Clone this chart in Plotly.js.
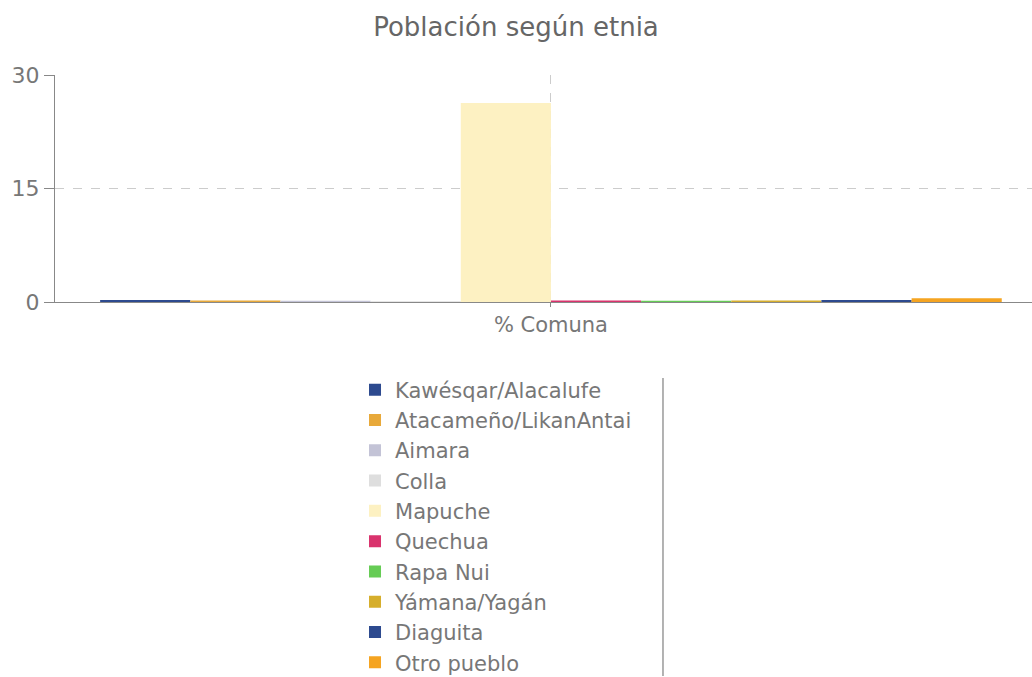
<!DOCTYPE html>
<html>
<head>
<meta charset="utf-8">
<script src="https://cdn.plot.ly/plotly-3.0.1.min.js"></script>
<style>html,body{margin:0;padding:0;background:#fff;}#chart{width:1032px;height:677px;}</style>
</head>
<body>
<div id="chart"></div>
<script>
const categories = ["% Comuna"];
const seriesNames = ["Kawésqar/Alacalufe","Atacameño/LikanAntai","Aimara","Colla","Mapuche","Quechua","Rapa Nui","Yámana/Yagán","Diaguita","Otro pueblo"];
const seriesValues = [0.25, 0.2, 0.15, 0.1, 26.3, 0.2, 0.15, 0.2, 0.25, 0.5];
const seriesColors = ["#2d4a8f","#e8a93a","#c3c3d6","#dedede","#fdf1c2","#d9336d","#66cc55","#d6ae2c","#2d4a8f","#f5a421"];
const yTicks = [0, 15, 30];

const font = "DejaVu Sans, Verdana, sans-serif";
const traces = seriesNames.map((n, i) => ({
  type: "bar",
  name: n,
  x: categories,
  y: [seriesValues[i]],
  marker: {color: seriesColors[i], line: {width: 0}},
  hoverinfo: "name+y"
}));

const layout = {
  width: 1032, height: 677,
  paper_bgcolor: "#fff", plot_bgcolor: "#fff",
  margin: {l: 55, r: 0, t: 75, b: 375, autoexpand: false},
  title: {text: "Población según etnia", font: {family: font, size: 26, color: "#666"}, x: 0.5, xanchor: "center", yref: "container", y: 0.96, yanchor: "middle"},
  font: {family: font, color: "#666"},
  barmode: "group",
  bargap: 0.091,
  bargroupgap: 0,
  showlegend: true,
  xaxis: {
    type: "category", range: [-0.5, 0.485],
    showline: true, linecolor: "#888", linewidth: 1,
    ticks: "outside", ticklen: 4, tickcolor: "#888",
    showgrid: true, gridcolor: "#ccc", griddash: "dash", gridwidth: 1,
    tickfont: {family: font, size: 21, color: "#777"},
    fixedrange: true
  },
  yaxis: {
    range: [0, 30], tickvals: yTicks, ticktext: yTicks.map(String),
    showline: true, linecolor: "#888", linewidth: 1,
    ticks: "outside", ticklen: 10, tickcolor: "#888",
    showgrid: true, gridcolor: "#ccc", griddash: "dash", gridwidth: 1,
    zeroline: false,
    tickfont: {family: font, size: 22, color: "#777"},
    fixedrange: true
  },
  legend: {
    orientation: "v", xref: "container", yref: "container",
    x: 0.344, xanchor: "left", y: 0.4542, yanchor: "top",
    font: {family: font, size: 21, color: "#777"},
    bgcolor: "rgba(0,0,0,0)", borderwidth: 0, tracegroupgap: 0,
    traceorder: "normal"
  },
  shapes: [{
    type: "line", xref: "paper", yref: "paper",
    x0: 0.6223, x1: 0.6223, y0: -0.335, y1: -1.6476,
    line: {color: "#999", width: 1.5}
  }]
};

Plotly.newPlot("chart", traces, layout, {displayModeBar: false, staticPlot: true});
</script>
</body>
</html>
